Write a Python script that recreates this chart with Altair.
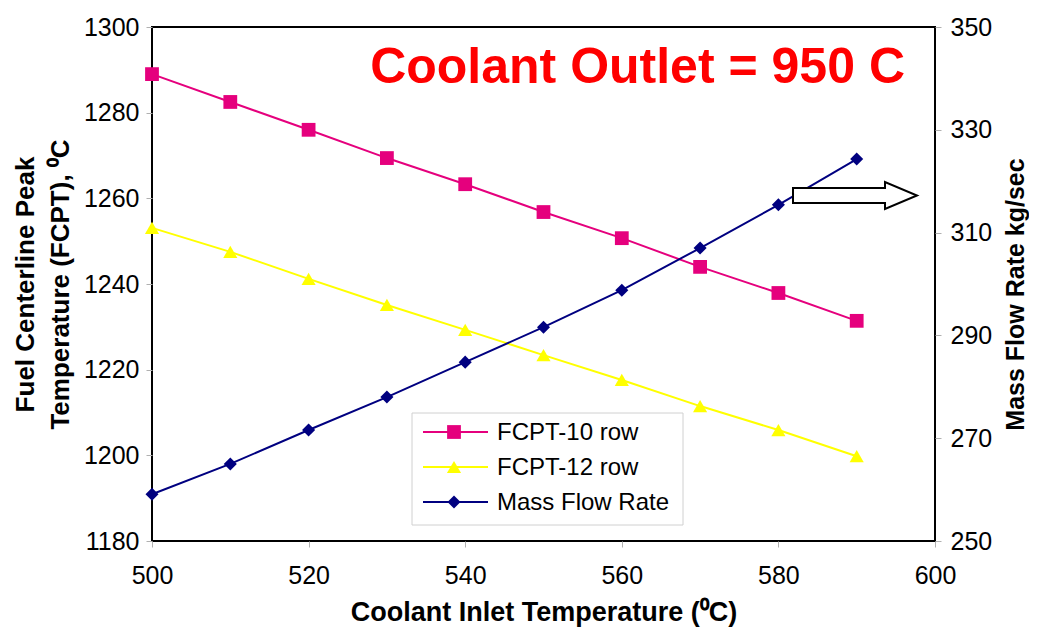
import altair as alt
import pandas as pd

# ---- data ----
inlet = [500, 510, 520, 530, 540, 550, 560, 570, 580, 590]
fcpt10 = [1289.0, 1282.5, 1276.0, 1269.4, 1263.3, 1256.8, 1250.7, 1244.0, 1237.9, 1231.4]
fcpt12 = [1253.1, 1247.5, 1241.2, 1235.1, 1229.3, 1223.4, 1217.6, 1211.5, 1205.9, 1199.8]
mass = [259.1, 265.0, 271.6, 278.0, 284.8, 291.6, 298.8, 307.0, 315.4, 324.3]

series_names = ["FCPT-10 row", "FCPT-12 row", "Mass Flow Rate"]
series_colors = ["#E5007D", "#FFFF00", "#000080"]
series_shapes = ["square", "triangle-up", "diamond"]
series_sizes = [190, 200, 170]

x_ticks = [500, 520, 540, 560, 580, 600]
left_ticks = [1180, 1200, 1220, 1240, 1260, 1280, 1300]
right_ticks = [250, 270, 290, 310, 330, 350]

title_text = "Coolant Outlet = 950 C"
x_title = "Coolant Inlet Temperature (\u2070C)"
left_title = ["Fuel Centerline Peak", "Temperature (FCPT),  \u2070C"]
right_title = "Mass Flow Rate kg/sec"

FONT = "Liberation Sans"

df10 = pd.DataFrame({"inlet": inlet, "value": fcpt10})
df12 = pd.DataFrame({"inlet": inlet, "value": fcpt12})
dfm = pd.DataFrame({"inlet": inlet, "value": mass})

x_enc = alt.X(
    "inlet:Q",
    scale=alt.Scale(domain=[500, 600], nice=False, zero=False),
    axis=alt.Axis(values=x_ticks, title=x_title, labelFlush=False, format="d",
                  labelPadding=16, titlePadding=11, labelOverlap=False),
)

left_axis = alt.Axis(values=left_ticks, title=left_title, titleLineHeight=35, format="d",
                     labelPadding=7, titlePadding=10, labelOverlap=False,
                     titleFontSize=26)
y_left = alt.Y("value:Q", scale=alt.Scale(domain=[1180, 1300], nice=False, zero=False),
               axis=left_axis)

right_axis = alt.Axis(values=right_ticks, title=right_title, orient="right", format="d",
                      labelPadding=9, labelOverlap=False,
                      titleAngle=270, titleAlign="center", titleBaseline="middle",
                      titleX=80, titleY=267, titleFontSize=25)
y_right = alt.Y("value:Q", scale=alt.Scale(domain=[250, 350], nice=False, zero=False),
                axis=right_axis)


def series_layers(df, y_enc, i):
    line = alt.Chart(df).mark_line(color=series_colors[i], strokeWidth=2).encode(x=x_enc, y=y_enc)
    pts = alt.Chart(df).mark_point(filled=True, shape=series_shapes[i], size=series_sizes[i],
                                   color=series_colors[i], opacity=1).encode(x=x_enc, y=y_enc)
    return [line, pts]


left = alt.layer(*series_layers(df10, y_left, 0), *series_layers(df12, y_left, 1))
right = alt.layer(*series_layers(dfm, y_right, 2))

# ---- legend (manual, Excel style) ----
one = pd.DataFrame({"k": [0]})
legend_layers = [
    alt.Chart(one).mark_rect(fill="white", stroke="#d0d0d0", strokeWidth=1).encode(
        x=alt.value(260), x2=alt.value(531), y=alt.value(386), y2=alt.value(498))
]
for i, name in enumerate(series_names):
    yy = 405 + i * 35
    legend_layers.append(
        alt.Chart(one).mark_rule(color=series_colors[i], strokeWidth=2).encode(
            x=alt.value(271), x2=alt.value(336), y=alt.value(yy)))
    legend_layers.append(
        alt.Chart(one).mark_point(filled=True, shape=series_shapes[i], size=series_sizes[i],
                                  color=series_colors[i], opacity=1).encode(
            x=alt.value(302), y=alt.value(yy)))
    legend_layers.append(
        alt.Chart(pd.DataFrame({"t": [name]})).mark_text(
            align="left", baseline="middle", font=FONT, fontSize=24, color="black").encode(
            x=alt.value(345), y=alt.value(yy + 1), text="t:N"))

# ---- arrow annotation ----
arrow_path = "M -1 -0.121 L 0.484 -0.121 L 0.484 -0.218 L 1 0 L 0.484 0.218 L 0.484 0.121 L -1 0.121 Z"
arrow = alt.Chart(one).mark_point(shape=arrow_path, size=15376, filled=True, fill="white",
                                  stroke="black", strokeWidth=2, opacity=1).encode(
    x=alt.value(703), y=alt.value(168.5))

# ---- in-plot title ----
title = alt.Chart(pd.DataFrame({"t": [title_text]})).mark_text(
    align="right", baseline="alphabetic", font=FONT, fontSize=50, fontWeight="bold",
    color="#FF0000").encode(x=alt.value(753), y=alt.value(56), text="t:N")

chart = alt.layer(left, right, arrow, *legend_layers, title).resolve_scale(
    y="independent"
).properties(
    width=783, height=514,
    autosize=alt.AutoSizeParams(type="none"),
    padding={"left": 144, "top": 19, "right": 94, "bottom": 86},
    background="white",
).configure_view(
    stroke="black", strokeWidth=2
).configure_axis(
    labelFont=FONT, labelFontSize=25, labelColor="black",
    titleFont=FONT, titleFontSize=27, titleFontWeight="bold", titleColor="black",
    tickColor="#b0b0b0", tickSize=6, domain=False, grid=False,
)

chart.save("out.html", embed_options={"renderer": "svg", "actions": False})
